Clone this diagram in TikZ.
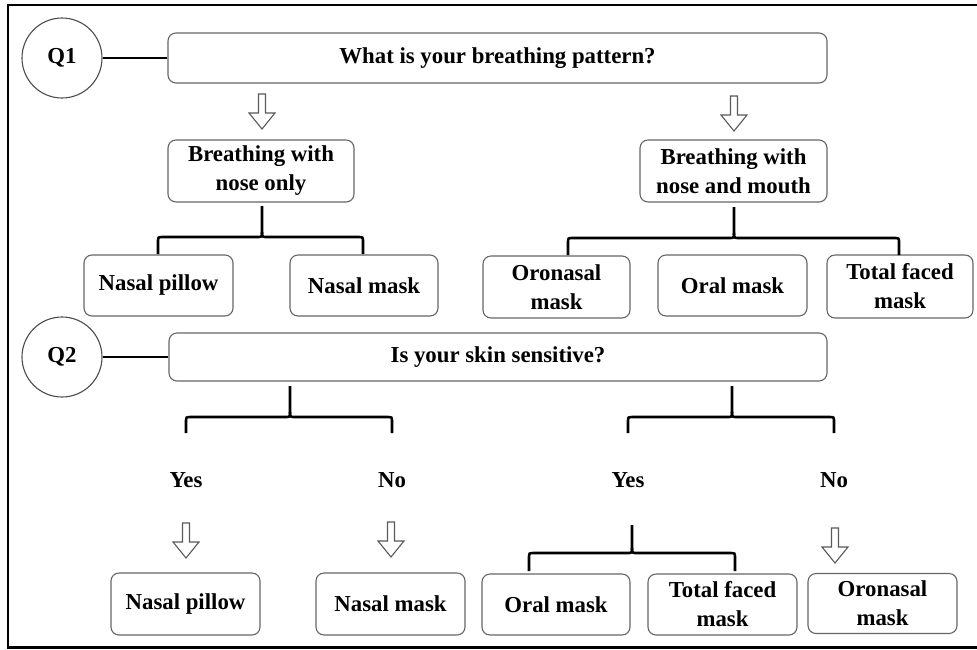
\documentclass[tikz,border=0pt]{standalone}
\usepackage{fontspec}
\setmainfont{Liberation Serif}
\begin{document}
\begin{tikzpicture}[x=1pt,y=-1pt,
  txt/.style={font=\bfseries\fontsize{22.8}{29}\selectfont, align=center, inner sep=0pt},
  box/.style={txt, draw=black!60, line width=1.1pt, rounded corners=8pt, fill=white},
  qcircle/.style={txt, draw=black!70, line width=1.1pt, circle, minimum size=80pt},
  link/.style={line width=2.4pt, black},
  bracket/.style={line width=2.6pt, black},
  frame/.style={line width=2.8pt, black},
  hollow/.pic={
    \draw[black!65, line width=1.1pt, fill=white, line join=miter]
      (-3.5,0) -- (3.5,0) -- (3.5,19) -- (13,19) -- (0,35) -- (-13,19) -- (-3.5,19) -- cycle;
  }
]
\useasboundingbox (0,0) rectangle (977,649);
% outer frame (its right side lies beyond the page)
\draw[frame] (990,5) -- (8,5) -- (8,647.5) -- (990,647.5);

% ---------- question 1 ----------
\node[qcircle] (q1c) at (62,58) {Q1};
\node[box, minimum width=659pt, minimum height=50pt] (q1box) at (497.5,58) {What is your breathing pattern?};
\draw[link] (q1c.east) -- (q1box.west);

\pic at (262,94) {hollow};
\pic at (734,96) {hollow};

\node[box, minimum width=186pt, minimum height=62pt] (nose) at (261,171) {Breathing with\\nose only};
\node[box, minimum width=187pt, minimum height=62pt] (mouth) at (733.5,171) {Breathing with\\nose and mouth};

\node[box, minimum width=149pt, minimum height=61pt] (pillowA) at (158.5,285.5) {Nasal pillow};
\node[box, minimum width=148pt, minimum height=61pt] (nmaskA) at (364,285.5) {Nasal mask};
\node[box, minimum width=147pt, minimum height=62pt] (oronA) at (556.5,287) {Oronasal\\mask};
\node[box, minimum width=149pt, minimum height=61pt] (oralA) at (732.5,285.5) {Oral mask};
\node[box, minimum width=146pt, minimum height=63pt] (totalA) at (900,286.5) {Total faced\\mask};

% brace-like branching: stem, bar and legs
\newcommand\branch[6]{% stem x, stem top y, bar y, left leg x, right leg x, leg bottom y
  \draw[bracket] (#4,#6) -- (#4,#3+5) .. controls (#4,#3) .. (#4+5,#3) -- (#1-5,#3)
        .. controls (#1,#3) .. (#1,#3-5) -- (#1,#2);
  \draw[bracket] (#5,#6) -- (#5,#3+5) .. controls (#5,#3) .. (#5-5,#3) -- (#1+5,#3)
        .. controls (#1,#3) .. (#1,#3-5);
}
\branch{262}{206}{237}{158}{363}{254}
\branch{734}{207}{238}{568}{899}{255}

% ---------- question 2 ----------
\node[qcircle] (q2c) at (62,357) {Q2};
\node[box, minimum width=658pt, minimum height=48pt] (q2box) at (498,357) {Is your skin sensitive?};
\draw[link] (q2c.east) -- (q2box.west);

\branch{290}{386}{417}{186}{392}{433}
\branch{732}{386}{417}{628}{834}{433}

\node[txt] (yesA) at (186,480) {Yes};
\node[txt] (noA) at (392,480) {No};
\node[txt] (yesB) at (628,480) {Yes};
\node[txt] (noB) at (834,480) {No};

\pic at (186,523) {hollow};
\pic at (391,522) {hollow};
\pic at (835,528) {hollow};

\branch{632}{525}{553}{529}{735}{571}

\node[box, minimum width=149pt, minimum height=62pt] (pillowB) at (185.5,604) {Nasal pillow};
\node[box, minimum width=149pt, minimum height=62pt] (nmaskB) at (390.5,604) {Nasal mask};
\node[box, minimum width=148pt, minimum height=61pt] (oralB) at (556,604.5) {Oral mask};
\node[box, minimum width=149pt, minimum height=61pt] (totalB) at (722.5,604.5) {Total faced\\mask};
\node[box, minimum width=149pt, minimum height=60pt] (oronB) at (882.5,603.5) {Oronasal\\mask};
\end{tikzpicture}
\end{document}
